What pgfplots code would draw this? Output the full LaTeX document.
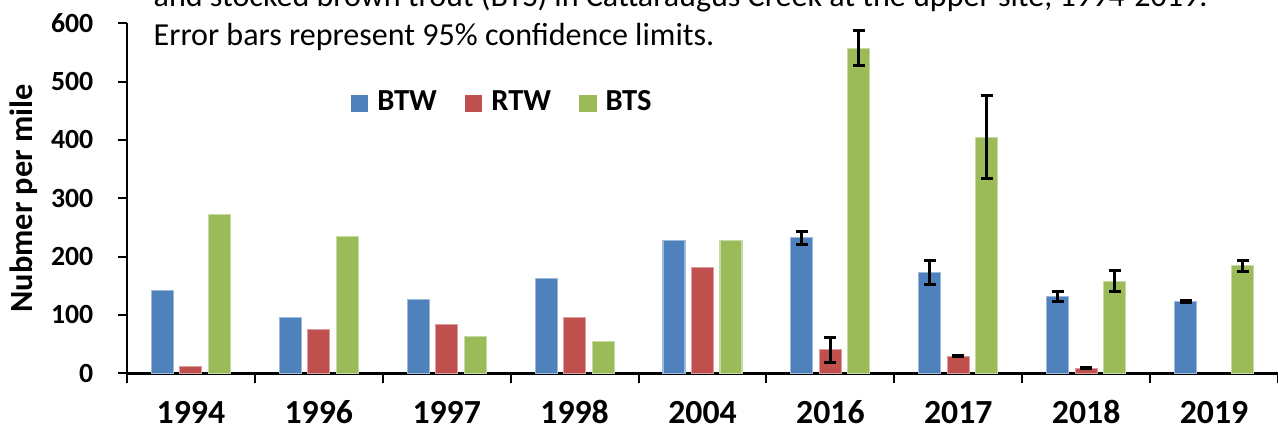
\documentclass[border=0pt]{standalone}
\usepackage{pgfplots}
\pgfplotsset{compat=1.18}
\usepackage{fontspec}
\setmainfont{Carlito}[Numbers=Lining]
\definecolor{cBTW}{HTML}{4F81BD}
\definecolor{cRTW}{HTML}{C0504D}
\definecolor{cBTS}{HTML}{9BBB59}
\begin{document}
\begin{tikzpicture}
\useasboundingbox (0,0) rectangle (12.78,4.28);
\clip (0,0) rectangle (12.78,4.28);
\node[anchor=base west, inner sep=0pt, font=\fontsize{9.12}{10}\selectfont] at (1.53,4.213) {and stocked brown trout (BTS) in Cattaraugus Creek at the upper site, 1994-2019.};
\node[anchor=base west, inner sep=0pt, font=\fontsize{9.12}{10}\selectfont] at (1.53,3.827) {Error bars represent 95\% confidence limits.};
\begin{axis}[
  at={(1.27cm,0.547cm)}, anchor=south west,
  scale only axis, width=11.51cm, height=3.50cm,
  ymin=0, ymax=600, ytick={0,100,...,600},
  xmin=-0.5, xmax=8.5,
  xtick={0,...,8},
  xticklabels={1994,1996,1997,1998,2004,2016,2017,2018,2019},
  minor xtick={-0.5,0.5,...,8.5},
  axis lines=left,
  axis line style={-, line width=0.027cm, black},
  tick align=outside,
  major tick length=0.09cm, minor tick length=0.1cm,
  tick style={black, line width=0.02cm},
  major x tick style={draw=none},
  /pgf/number format/assume math mode=true,
  yticklabel style={font=\fontsize{7.9}{8}\selectfont\bfseries, inner sep=0pt, xshift=-0.24cm},
  xticklabel style={font=\fontsize{9.6}{10}\selectfont\bfseries, inner sep=0pt, anchor=north, text height=0.214cm, text depth=0pt, yshift=-0.19cm},
  ylabel={Nubmer per mile},
  ylabel style={at={(axis description cs:-0.090,0.5)}, anchor=center, rotate=0, font=\fontsize{9.2}{10}\selectfont\bfseries},
  ybar=0.065cm, bar width=0.22cm,
  legend columns=3,
  legend style={at={(axis description cs:0.194,0.771)}, anchor=west, draw=none, fill=none,
    font=\fontsize{8.7}{10}\selectfont\bfseries, inner sep=0pt,
    nodes={inner sep=0pt},
    /tikz/every odd column/.append style={column sep=0.09cm},
    /tikz/every even column/.append style={column sep=0.28cm}},
  legend image code/.code={\path[#1,/tikz/.cd,draw=none] (0cm,-0.0875cm) rectangle (0.175cm,0.0875cm);},
  error bars/error bar style={line width=0.03cm, black},
  error bars/error mark options={rotate=90, black, line width=0.03cm, mark size=0.06cm},
]
\addplot[fill=cBTW, draw=cBTW!55!white, line width=0.3pt,
  error bars/.cd, y dir=both, y explicit]
  coordinates {
  (0,142) (1,96) (2,126) (3,162) (4,227)
  (5,232) += (0,11) -= (0,11)
  (6,172) += (0,21) -= (0,20)
  (7,131) += (0,10) -= (0,8)
  (8,123) += (0,1) -= (0,1)
  };
\addplot[fill=cRTW, draw=cRTW!55!white, line width=0.3pt,
  error bars/.cd, y dir=both, y explicit]
  coordinates {
  (0,12) (1,75) (2,84) (3,95) (4,182)
  (5,40) += (0,22) -= (0,22)
  (6,29) += (0,1) -= (0,1)
  (7,9) += (0,1) -= (0,1)
  };
\addplot[fill=cBTS, draw=cBTS!55!white, line width=0.3pt,
  error bars/.cd, y dir=both, y explicit]
  coordinates {
  (0,272) (1,235) (2,63) (3,54) (4,227)
  (5,557) += (0,31) -= (0,30)
  (6,405) += (0,71) -= (0,71)
  (7,158) += (0,19) -= (0,18)
  (8,184) += (0,9) -= (0,9)
  };
\legend{BTW,RTW,BTS}
\end{axis}
\end{tikzpicture}
\end{document}
